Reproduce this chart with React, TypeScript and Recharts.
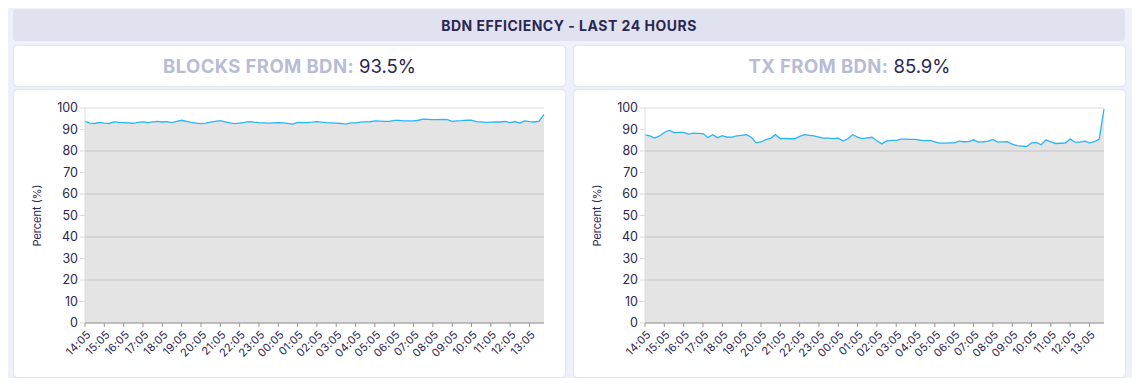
import React from 'react';
import { AreaChart, Area, XAxis, YAxis, CartesianGrid } from 'recharts';

const times = [
  '14:05','14:20','14:35','14:50','15:05','15:20','15:35','15:50','16:05','16:20','16:35','16:50',
  '17:05','17:20','17:35','17:50','18:05','18:20','18:35','18:50','19:05','19:20','19:35','19:50',
  '20:05','20:20','20:35','20:50','21:05','21:20','21:35','21:50','22:05','22:20','22:35','22:50',
  '23:05','23:20','23:35','23:50','00:05','00:20','00:35','00:50','01:05','01:20','01:35','01:50',
  '02:05','02:20','02:35','02:50','03:05','03:20','03:35','03:50','04:05','04:20','04:35','04:50',
  '05:05','05:20','05:35','05:50','06:05','06:20','06:35','06:50','07:05','07:20','07:35','07:50',
  '08:05','08:20','08:35','08:50','09:05','09:20','09:35','09:50','10:05','10:20','10:35','10:50',
  '11:05','11:20','11:35','11:50','12:05','12:20','12:35','12:50','13:05','13:20','13:35','13:50',
];

const tickLabels = [
  '14:05','15:05','16:05','17:05','18:05','19:05','20:05','21:05','22:05','23:05','00:05','01:05',
  '02:05','03:05','04:05','05:05','06:05','07:05','08:05','09:05','10:05','11:05','12:05','13:05',
];

const blocksFromBdn = [
  93.8, 93.0, 92.8, 93.3, 93.0, 92.8, 93.5, 93.3, 93.2, 93.1, 92.9, 93.3,
  93.5, 93.2, 93.5, 93.8, 93.5, 93.7, 93.2, 93.8, 94.3, 93.8, 93.3, 93.0,
  92.7, 93.0, 93.4, 93.8, 94.1, 93.6, 93.1, 92.7, 93.0, 93.3, 93.7, 93.4,
  93.2, 93.1, 93.0, 93.1, 93.2, 93.1, 92.8, 92.5, 93.3, 93.2, 93.2, 93.4,
  93.7, 93.4, 93.2, 93.1, 93.0, 92.8, 92.5, 93.1, 93.1, 93.4, 93.5, 93.6,
  94.0, 93.9, 93.8, 93.8, 94.2, 94.2, 94.0, 94.0, 94.0, 94.3, 94.8, 94.7,
  94.6, 94.6, 94.7, 94.6, 93.8, 94.0, 94.1, 94.3, 94.4, 93.7, 93.5, 93.3,
  93.4, 93.5, 93.5, 93.8, 93.2, 93.7, 93.0, 94.0, 93.7, 93.5, 93.9, 97.0,
];

const txFromBdn = [
  87.5, 87.0, 86.0, 87.0, 88.6, 89.7, 88.6, 88.7, 88.7, 87.9, 88.3, 88.2,
  88.1, 86.3, 87.6, 86.2, 87.1, 86.4, 86.5, 87.0, 87.3, 87.6, 86.4, 83.8,
  84.2, 85.3, 85.9, 87.6, 85.7, 85.9, 85.7, 85.7, 86.8, 87.6, 87.3, 87.0,
  86.5, 86.0, 86.0, 85.8, 86.0, 84.6, 85.7, 87.6, 86.5, 85.8, 86.1, 86.4,
  84.8, 83.3, 84.7, 84.9, 84.9, 85.5, 85.5, 85.4, 85.4, 85.0, 84.8, 84.9,
  84.3, 83.7, 83.7, 83.8, 83.8, 84.6, 84.3, 84.4, 85.2, 84.1, 84.3, 84.6,
  85.4, 84.1, 84.2, 84.3, 83.2, 82.5, 82.3, 82.1, 83.8, 84.0, 82.9, 85.2,
  84.2, 83.5, 83.6, 83.7, 85.6, 84.1, 84.1, 84.6, 83.8, 84.3, 85.5, 99.5,
];

const yTicks = [0, 10, 20, 30, 40, 50, 60, 70, 80, 90, 100];

const blocksData = times.map((t, i) => ({ time: t, value: blocksFromBdn[i] }));
const txData = times.map((t, i) => ({ time: t, value: txFromBdn[i] }));

const FONT = 'Inter, "Open Sans", sans-serif';
const DARK = '#2b2652';

const XTick = (props: any) => {
  const { x, y, payload } = props;
  return (
    <g transform={`translate(${x},${y})`}>
      <text x={0} y={0} dy={9} textAnchor="end" fill={DARK} fontSize={11} fontFamily={FONT} letterSpacing={0.2} transform="rotate(-45)">
        {payload.value}
      </text>
    </g>
  );
};

const Chart = ({ data }: { data: any[] }) => (
  <AreaChart width={551} height={287} data={data} margin={{ top: 18, right: 21, left: 1, bottom: 0 }}>
    <CartesianGrid vertical={false} stroke="#dcdcdc" />
    <XAxis
      dataKey="time"
      ticks={tickLabels}
      interval={0}
      height={54}
      tick={<XTick />}
      stroke="#9a9a9a"
      tickLine={{ stroke: '#9a9a9a' }}
      tickSize={4}
    />
    <YAxis
      domain={[0, 100]}
      ticks={yTicks}
      width={70}
      stroke="#dcdcdc"
      tickSize={5}
      tick={{ fill: DARK, fontSize: 12.5, fontFamily: FONT }}
      label={{ value: 'Percent (%)', angle: -90, position: 'insideLeft', offset: 22, style: { textAnchor: 'middle', fill: DARK, fontSize: 11, fontFamily: FONT } }}
    />
    <Area
      type="linear"
      dataKey="value"
      stroke="#29b6f6"
      strokeWidth={1.3}
      fill="#000000"
      fillOpacity={0.105}
      isAnimationActive={false}
      dot={false}
    />
  </AreaChart>
);

const box: React.CSSProperties = {
  position: 'absolute',
  background: '#ffffff',
  borderRadius: 4,
  boxShadow: '0 0 2px rgba(120,125,170,0.35)',
};

const header: React.CSSProperties = {
  ...box,
  top: 46,
  width: 551,
  height: 40,
  display: 'flex',
  alignItems: 'center',
  justifyContent: 'center',
  fontSize: 18.5,
};

export default function App() {
  return (
    <div style={{ position: 'relative', width: 1140, height: 386, margin: -8, background: '#eef0fa', fontFamily: FONT, overflow: 'hidden' }}>
      <div style={{ position: 'absolute', left: 13, top: 9, width: 1112, height: 32, background: '#e0e2ef', borderRadius: 4, display: 'flex', alignItems: 'center', justifyContent: 'center', color: DARK, fontWeight: 700, fontSize: 14, letterSpacing: 0.5 }}>
        BDN EFFICIENCY - LAST 24 HOURS
      </div>
      <div style={{ ...header, left: 14 }}>
        <span style={{ color: '#b8bcd6', fontWeight: 700, letterSpacing: 0.4 }}>BLOCKS FROM BDN:</span>
        <span style={{ color: DARK, marginLeft: 5, fontWeight: 400 }}>93.5%</span>
      </div>
      <div style={{ ...header, left: 574 }}>
        <span style={{ color: '#b8bcd6', fontWeight: 700, letterSpacing: 0.4 }}>TX FROM BDN:</span>
        <span style={{ color: DARK, marginLeft: 5, fontWeight: 400 }}>85.9%</span>
      </div>
      <div style={{ ...box, left: 14, top: 90, width: 551, height: 287 }}>
        <Chart data={blocksData} />
      </div>
      <div style={{ ...box, left: 574, top: 90, width: 551, height: 287 }}>
        <Chart data={txData} />
      </div>
    </div>
  );
}
